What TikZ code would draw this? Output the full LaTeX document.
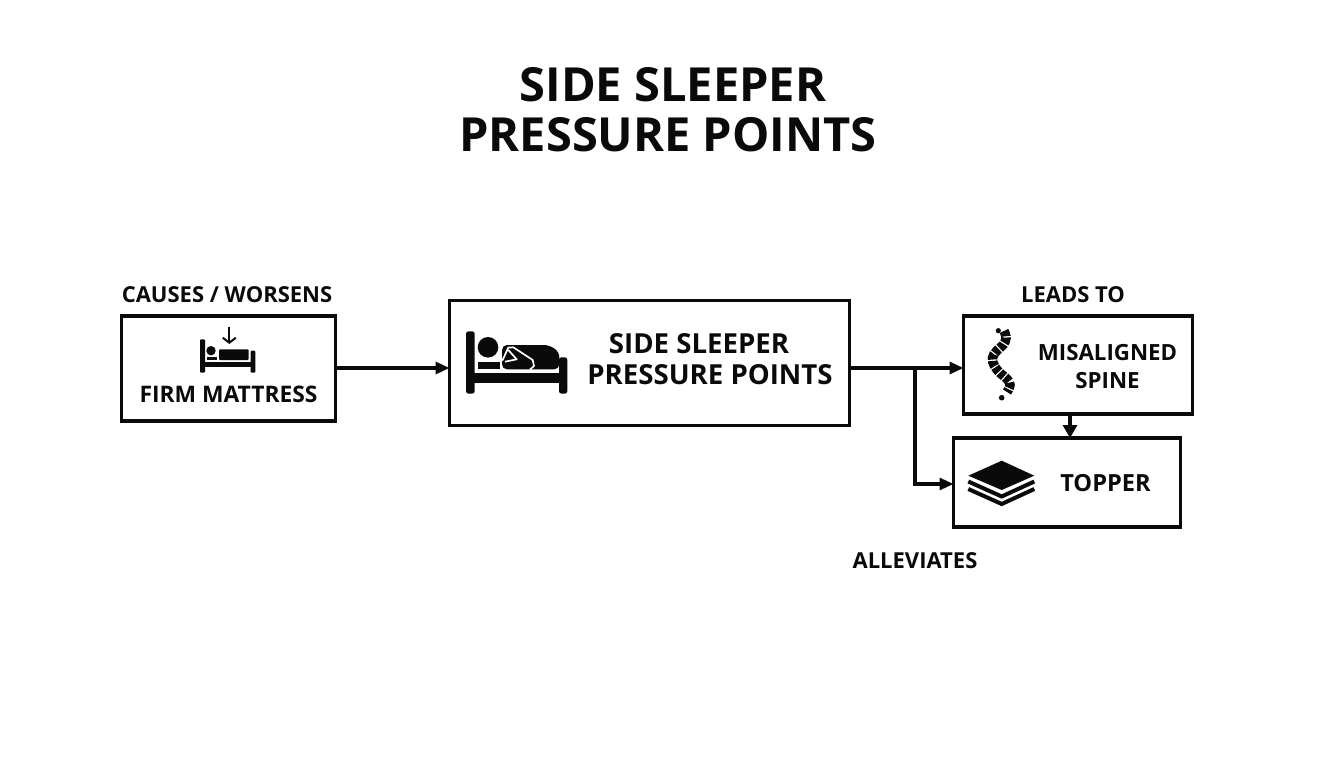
\documentclass[tikz,border=0pt]{standalone}
\usepackage{fontspec}
\setmainfont{Open Sans}
\usetikzlibrary{arrows.meta,calc}
\definecolor{ink}{HTML}{0A0A0A}
\tikzset{
  boxnode/.style={draw=ink,line width=3.4pt,fill=white,rectangle,inner sep=0pt,outer sep=0pt},
  lbl/.style={text=ink,font=\bfseries\fontsize{22}{26}\selectfont,inner sep=0pt,align=center},
  ttl/.style={text=ink,font=\bfseries\fontsize{47}{54}\selectfont,inner sep=0pt,align=center},
  conn/.style={draw=ink,line width=3.2pt,-{Stealth[length=14pt,width=12pt,inset=0pt]}},
  solidink/.style={fill=ink,draw=none},
}
\begin{document}
\begin{tikzpicture}[x=1pt,y=-1pt]
\useasboundingbox (0,0) rectangle (1344,768);
\fill[white] (0,0) rectangle (1344,768);
% title
\node[ttl] (t1) at (673,85) {SIDE SLEEPER};
\node[ttl] (t2) at (668,135) {PRESSURE POINTS};
% boxes
\node[boxnode,minimum width=214pt,minimum height=105pt] (firm) at (228.5,368.5) {};
\node[boxnode,minimum width=400pt,minimum height=125.5pt] (main) at (649.5,363) {};
\node[boxnode,minimum width=229pt,minimum height=98pt] (spine) at (1078,365) {};
\node[boxnode,minimum width=227pt,minimum height=89pt] (topper) at (1067,482.5) {};
% labels
\node[lbl] (causes) at (227,295) {CAUSES / WORSENS};
\node[lbl] (leads) at (1073,295) {LEADS TO};
\node[lbl] (allev) at (915,561) {ALLEVIATES};
\node[lbl,font=\bfseries\fontsize{22.8}{28}\selectfont] (firmt) at (228.5,394) {FIRM MATTRESS};
\node[lbl,font=\bfseries\fontsize{27.6}{31}\selectfont] (maint1) at (699,344) {SIDE SLEEPER};
\node[lbl,font=\bfseries\fontsize{27.6}{31}\selectfont] (maint2) at (710,375) {PRESSURE POINTS};
\node[lbl,font=\bfseries\fontsize{22.3}{28}\selectfont] (spt1) at (1107.5,353) {MISALIGNED};
\node[lbl,font=\bfseries\fontsize{22.3}{28}\selectfont] (spt2) at (1107.5,381) {SPINE};
\node[lbl,font=\bfseries\fontsize{23.6}{28}\selectfont] (topt) at (1105.5,483) {TOPPER};
% connectors
\coordinate (branch) at (915,368);
\draw[conn] (firm.east |- 0,368) -- (main.west |- 0,368);
\draw[conn] (main.east |- 0,368) -- (spine.west |- 0,368);
\draw[conn] (branch) |- (topper.west |- 0,484);
\draw[conn,-{Stealth[length=13pt,width=14pt,inset=0pt]}] (1070,414) -- (1070,438);
% firm icon
\fill[solidink,rounded corners=1pt] (200,339.3) rectangle (205,372.7);
\fill[solidink,rounded corners=1pt] (250.7,350.7) rectangle (255.3,372.7);
\fill[solidink] (200,361.7) rectangle (255,367.3);
\fill[solidink] (211,350.7) circle (4.7);
\fill[solidink] (206.7,356.5) rectangle (217.3,360);
\fill[solidink,rounded corners=1pt] (219,349.3) rectangle (248.7,360);
\draw[draw=ink,line width=2pt,-{Straight Barb[length=5pt,width=13pt]}] (229.3,326.7) -- (229.3,344);
% main icon
\fill[solidink,rounded corners=2.5pt] (466,331.3) rectangle (474.7,393.7);
\fill[solidink,rounded corners=2.5pt] (559,357.3) rectangle (567.3,393.7);
\fill[solidink] (468,372.7) rectangle (563,383.3);
\fill[solidink] (488,347.3) circle (10.3);
\fill[solidink] (477.7,362) rectangle (500,369.3);
\fill[solidink,rounded corners=5pt] (502,369.3) -- (502,345) -- (549,345) -- (559.3,352) -- (559.3,369.3) -- cycle;
\draw[white,line width=1.7pt,line join=round] (502.3,360.7) -- (508.3,347.6) -- (513.3,347.3) -- (532.7,360) -- (534,366) -- (530,369.5);
\draw[white,line width=1.7pt,line join=round] (508.3,350) -- (516.7,359.3) -- (505,361.7);
% spine icon
\fill[solidink] (998.3,330.7) circle (2.6);
\draw[ink,line width=9.5pt,dash pattern=on 5.6pt off 1.4pt] plot[smooth,tension=0.7] coordinates {(1004,331) (1006,338) (1003,345) (996.5,351) (992.5,358) (994.5,366) (1000,373) (1007,379) (1010,385) (1007,392)};
\fill[solidink] (1001.7,397.7) circle (2.8);
% topper icon
\fill[solidink] (1001.7,460.7) -- (1034.3,475.7) -- (1001.7,490) -- (968.3,475.7) -- cycle;
\draw[ink,line width=4pt,miter limit=10] (968.3,481.5) -- (1001.7,496.5) -- (1034.3,481.5);
\draw[ink,line width=4pt,miter limit=10] (968.3,489) -- (1001.7,504) -- (1034.3,489);
\end{tikzpicture}
\end{document}
